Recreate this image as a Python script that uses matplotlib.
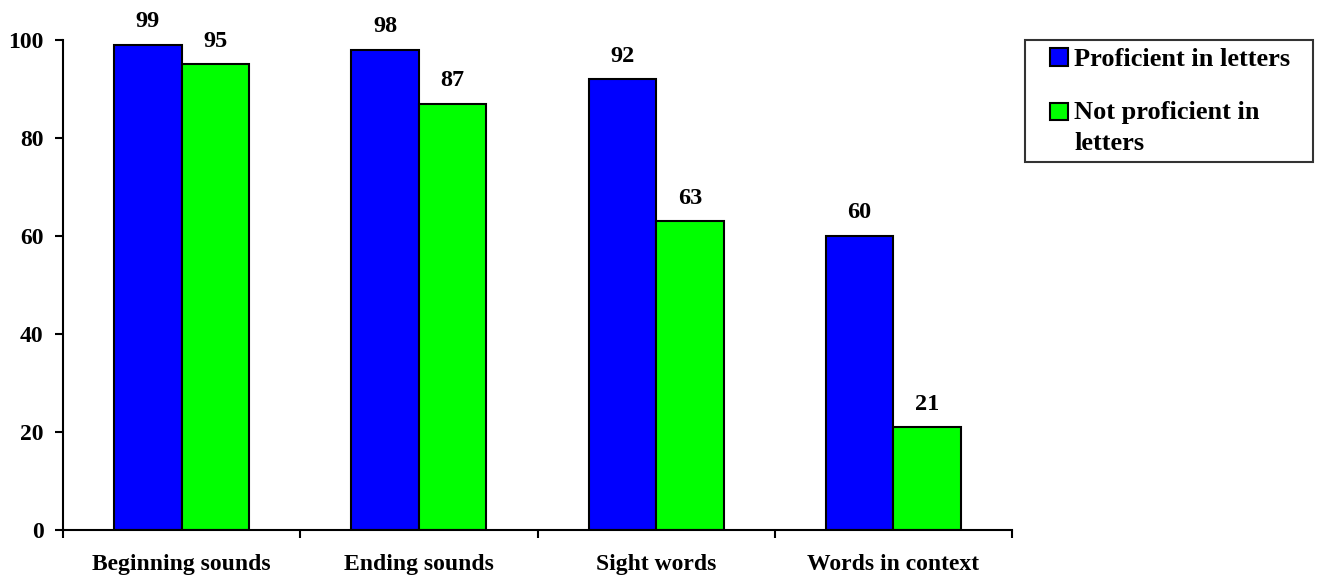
import matplotlib
matplotlib.use("Agg")
import matplotlib.pyplot as plt
from matplotlib.patches import Rectangle
from matplotlib.legend_handler import HandlerPatch
import numpy as np

categories = ["Beginning sounds", "Ending sounds", "Sight words", "Words in context"]
proficient = [99, 98, 92, 60]
not_proficient = [95, 87, 63, 21]
series_names = ["Proficient in letters", "Not proficient in\nletters"]

plt.rcParams['font.family'] = ['Liberation Serif', 'DejaVu Serif']
plt.rcParams['font.weight'] = 'bold'

fig = plt.figure(figsize=(13.17, 5.80), dpi=100)
ax = fig.add_axes([63 / 1317, 50 / 580, (1012 - 63) / 1317, 490 / 580])

x = np.arange(len(categories))
w = 0.285
b1 = ax.bar(x - w / 2, proficient, w, color="#0000ff", edgecolor="black", linewidth=1.5,
            label=series_names[0])
b2 = ax.bar(x + w / 2, not_proficient, w, color="#00ff00", edgecolor="black", linewidth=1.5,
            label=series_names[1])

for bars in (b1, b2):
    for r in bars:
        ax.annotate(f"{int(r.get_height())}", (r.get_x() + r.get_width() / 2, r.get_height()),
                    xytext=(0, 9), textcoords="offset points", ha="center", va="bottom",
                    fontsize=17.5, fontweight="bold")

ax.set_xlim(-0.5, len(categories) - 0.5)
ax.set_ylim(0, 100)
ax.set_yticks([0, 20, 40, 60, 80, 100])
ax.tick_params(axis="y", direction="out", length=6, width=1.5, labelsize=17, pad=8)
ax.set_xticks(x)
ax.set_xticklabels(categories)
ax.set_xticks(np.arange(len(categories) + 1) - 0.5, minor=True)
ax.tick_params(axis="x", which="major", length=0, labelsize=17, pad=17)
ax.tick_params(axis="x", which="minor", direction="out", length=6, width=1.5)
for lab in ax.get_xticklabels() + ax.get_yticklabels():
    lab.set_fontweight("bold")

for s in ["top", "right"]:
    ax.spines[s].set_visible(False)
for s in ["left", "bottom"]:
    ax.spines[s].set_linewidth(1.5)


# small square handle at the right of the handle box
def make_square(legend, orig_handle, xdescent, ydescent, width, height, fontsize):
    side = 0.68 * fontsize
    return Rectangle((width - xdescent - side, -ydescent + (height - side) / 2), side, side)


class FirstLineHandler(HandlerPatch):
    def __init__(self, shift=0.0):
        super().__init__(patch_func=make_square)
        self.shift = shift

    def create_artists(self, legend, orig_handle, xdescent, ydescent, width, height, fontsize, trans):
        arts = super().create_artists(legend, orig_handle, xdescent, ydescent, width, height,
                                      fontsize, trans)
        for a in arts:
            a.set_y(a.get_y() + self.shift)
        return arts


h1, h2 = b1[0], b2[0]
leg = fig.legend(handles=[h1, h2], labels=series_names,
                 loc="upper left",
                 bbox_to_anchor=(1025 / 1317, 1 - 40 / 580 - 0.01, 288 / 1317, 0.01),
                 mode="expand",
                 prop={"size": 19, "weight": "bold"}, frameon=True, fancybox=False,
                 handlelength=1.36, handleheight=0.7, handletextpad=0.23,
                 labelspacing=1.13, borderpad=0.28, borderaxespad=0,
                 handler_map={h1: FirstLineHandler(0.0), h2: FirstLineHandler(11.5)})
leg.get_frame().set_edgecolor("black")
leg.get_frame().set_linewidth(1.5)
for t in leg.get_texts():
    t.set_linespacing(1.45)

fig.savefig("out.png", dpi=100)
